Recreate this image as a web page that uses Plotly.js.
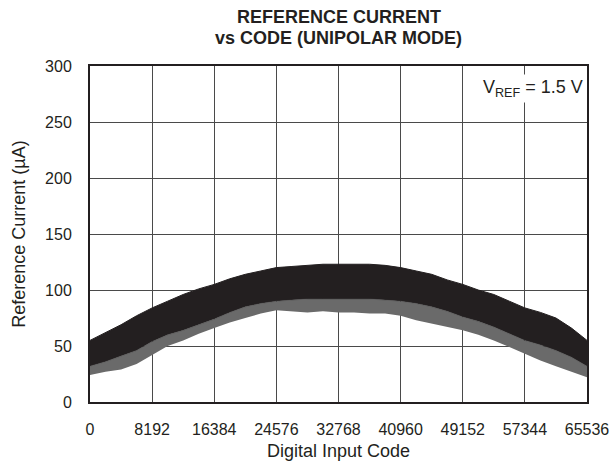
<!DOCTYPE html>
<html>
<head>
<meta charset="utf-8">
<script src="https://cdn.plot.ly/plotly-3.0.1.min.js"></script>
<style>html,body{margin:0;padding:0;background:#fff}</style>
</head>
<body>
<div id="chart" style="width:616px;height:464px"></div>
<script>
// Digital input codes at which the band edges were read (step 2048)
const codes = [0,2048,4096,6144,8192,10240,12288,14336,16384,18432,20480,22528,24576,26624,28672,30720,32768,
  34816,36864,38912,40960,43008,45056,47104,49152,51200,53248,55296,57344,59392,61440,63488,65536];
// Upper edge of the measured band (µA)
const upperEdge = [55,62,69,77,84,90,96,101,105,110,114,117,120,121,122,123,123,
  123,123,122,120,117,114,109,105,100,96,90,84,80,75,66,55];
// Lower edge of the dense core of the band (µA)
const coreLower = [32,36,41,46,54,60,64,69,74,80,85,88,90,91,92,92,92,
  92,92,91,90,88,85,81,76,72,67,61,55,51,46,40,32];
// Lowest spikes below the core (µA)
const spikeLower = [24,27,29,34,42,50,55,61,66,71,75,79,82,81,80,81,80,
  80,79,79,77,73,70,67,64,60,55,49,43,37,32,27,22];
const tickVals = [0,8192,16384,24576,32768,40960,49152,57344,65536];
const tickText = ["0","8192","16384","24576","32768","40960","49152","57344","65536"];

const ink = '#231f20';
const traces = [
  {x: codes, y: spikeLower, type: 'scatter', mode: 'lines', line: {width: 0, color: '#777'}, hoverinfo: 'skip', showlegend: false},
  {x: codes, y: coreLower, type: 'scatter', mode: 'lines', fill: 'tonexty', fillcolor: '#6a6a6a', line: {width: 0.5, color: '#4a4a4a'}, hoverinfo: 'skip', showlegend: false},
  {x: codes, y: upperEdge, type: 'scatter', mode: 'lines', fill: 'tonexty', fillcolor: ink, line: {width: 1, color: ink}, hoverinfo: 'skip', showlegend: false}
];

const fam = 'Liberation Sans, Arial, sans-serif';
const tickFont = {family: fam, size: 16, color: ink};
const titleFont = {family: fam, size: 18, color: ink};
const layout = {
  width: 616, height: 464,
  margin: {l: 90, r: 29, t: 66, b: 62},
  paper_bgcolor: '#fff', plot_bgcolor: '#fff',
  xaxis: {range: [0, 65536], tickvals: tickVals, ticktext: tickText, showgrid: true, gridcolor: '#4a4a4a', gridwidth: 1,
    showline: true, linecolor: ink, linewidth: 2, mirror: true, ticks: '', zeroline: false, automargin: false,
    ticklabelstandoff: 12, tickfont: tickFont, title: {text: 'Digital Input Code', font: titleFont, standoff: 7}},
  yaxis: {range: [0, 300], dtick: 50, showgrid: true, gridcolor: '#4a4a4a', gridwidth: 1,
    showline: true, linecolor: ink, linewidth: 2, mirror: true, ticks: '', zeroline: false, automargin: false,
    ticklabelstandoff: 13, tickfont: tickFont, title: {text: 'Reference Current (µA)', font: titleFont, standoff: 15}},
  annotations: [
    {xref: 'paper', yref: 'paper', x: 0.5, y: 1 + (66 - 17) / 336, xanchor: 'center', yanchor: 'middle',
     text: '<b>REFERENCE CURRENT</b>', showarrow: false, font: {family: fam, size: 18, color: ink}},
    {xref: 'paper', yref: 'paper', x: 0.5, y: 1 + (66 - 38) / 336, xanchor: 'center', yanchor: 'middle',
     text: '<b>vs CODE (UNIPOLAR MODE)</b>', showarrow: false, font: {family: fam, size: 18, color: ink}},
    {xref: 'paper', yref: 'paper', x: 0.997, y: 0.975, xanchor: 'right', yanchor: 'top',
     text: 'V<sub>REF</sub> = 1.5 V', showarrow: false, bgcolor: '#fff', borderpad: 2,
     font: {family: fam, size: 18, color: ink}}]
};
Plotly.newPlot('chart', traces, layout, {displayModeBar: false, staticPlot: true});
</script>
</body>
</html>
